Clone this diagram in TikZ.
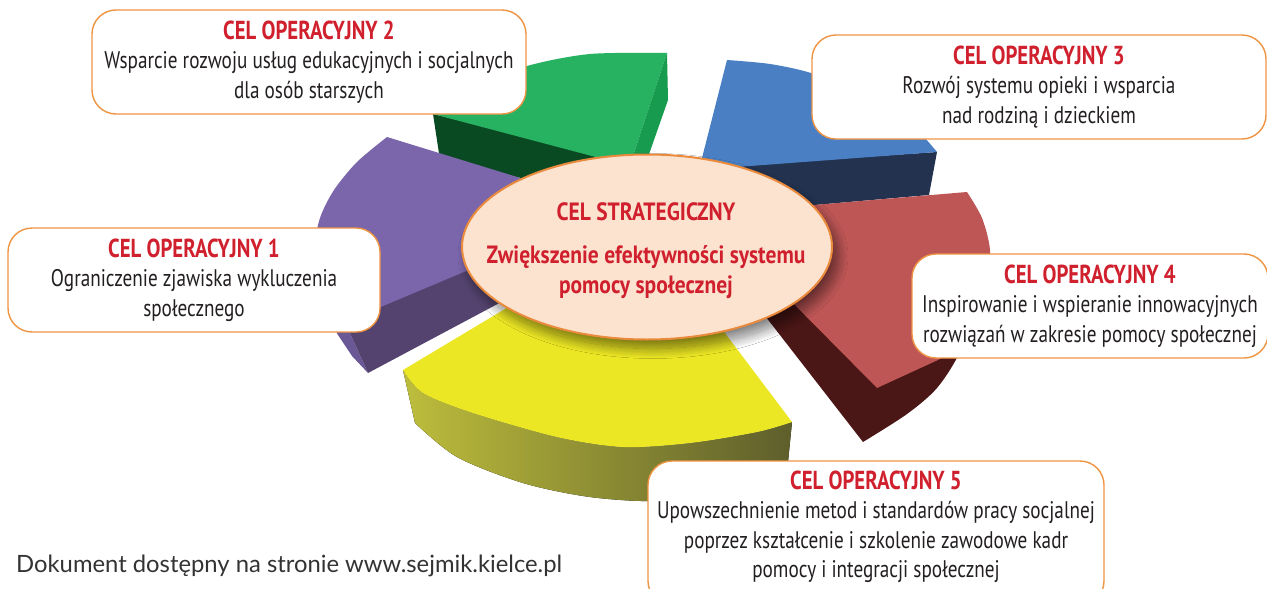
\documentclass[tikz,border=0pt]{standalone}
\usepackage{fontspec}
\setmainfont{PT Sans}
\newfontfamily\condf{PT Sans}[FakeStretch=0.8]
\newfontfamily\ellf{PT Sans}[FakeStretch=0.86]
\newfontfamily\footf{Lato}
\usetikzlibrary{shapes.geometric,shadows.blur}
\definecolor{titlered}{HTML}{D0202E}
\definecolor{bodytext}{HTML}{231F20}
\definecolor{boxorange}{HTML}{EF9443}
\definecolor{greentop}{HTML}{27B262}
\definecolor{greenright}{HTML}{179B4F}
\definecolor{greenleft}{HTML}{0A4A23}
\definecolor{bluetop}{HTML}{4A80C3}
\definecolor{navy}{HTML}{22324F}
\definecolor{purpletop}{HTML}{7B66AB}
\definecolor{purplefront}{HTML}{54436F}
\definecolor{purpleside}{HTML}{6A5896}
\definecolor{redtop}{HTML}{BE5656}
\definecolor{maroon}{HTML}{4A1616}
\definecolor{yellowtop}{HTML}{ECE724}
\definecolor{olivel}{HTML}{BDBD3C}
\definecolor{oliver}{HTML}{5E5E2C}
\definecolor{peach}{HTML}{FBE3D0}
\definecolor{ellborder}{HTML}{E98A3C}
\definecolor{foot}{HTML}{333333}
\begin{document}
\begin{tikzpicture}[x=1pt,y=-1pt,
  goalbox/.style={draw=boxorange, line width=1.4pt, fill=white, rounded corners=24pt,
    inner sep=0pt, align=center, text=bodytext,
    font=\condf\fontsize{24}{29.5}\selectfont},
  goaltext/.style={inner sep=0pt, align=center, text=bodytext,
    font=\condf\fontsize{24}{29.5}\selectfont}]
\clip (0,0) rectangle (1267,589);
\fill[white] (0,0) rectangle (1267,589);

% green slice (back)
\fill[greenleft] (433,114) -- (620,160) -- (620,200) -- (440,160) -- cycle;
\fill[greentop] plot[smooth] coordinates {(433,114) (478,86) (527,66) (590,54) (667,53)}
   -- (630,165) -- (607,160) -- cycle;
\fill[greenright] (667,53) -- (668,100) -- (647,160) -- (630,165) -- cycle;

% blue slice
\fill[navy] (700,168) -- (937,152) -- (929,195) -- (700,215) -- cycle;
\fill[bluetop] plot[smooth] coordinates {(727,60) (770,64) (811,73) (860,92) (905,118) (937,152)}
   -- (737,167) -- (700,170) -- (702,158) -- cycle;

% purple slice
\fill[purpleside] (320,300) -- (345,322) -- (368,373) -- (352,356) -- (338,335) -- cycle;
\fill[purplefront] (345,322) -- (505,245) -- (505,300) -- (368,373) -- cycle;
\fill[purpletop] (387,137) -- (540,184) -- (540,240) -- (345,322)
   -- plot[smooth] coordinates {(345,322) (328,305) (317,280) (314,250) (320,218) (334,190) (357,162) (387,137)}
   -- cycle;

% red slice
\fill[maroon] (745,290) -- (863,442)
   -- plot[smooth] coordinates {(863,442) (907,414) (937,388) (960,352) (980,300)}
   -- (985,250) -- (800,250) -- cycle;
\fill[redtop] (790,207) -- (967,192)
   -- plot[smooth] coordinates {(967,192) (982,218) (990,250) (988,290) (975,325) (958,347) (938,360)}
   -- (877,388) -- (780,290) -- cycle;

% yellow slice
\fill[left color=olivel, right color=oliver] (403,370)
   -- plot[smooth] coordinates {(403,370) (423,393) (473,413) (557,437) (623,447) (690,443) (757,432) (792,422)}
   -- (787,472)
   -- plot[smooth] coordinates {(787,472) (720,492) (657,501) (590,497) (523,483) (457,457) (415,423)}
   -- cycle;
\fill[yellowtop] (403,370) -- (520,300) -- (700,300) -- (792,422)
   -- plot[smooth] coordinates {(792,422) (757,432) (690,443) (623,447) (557,437) (473,413) (423,393) (403,370)}
   -- cycle;

% central ellipse
\node[ellipse, minimum width=370pt, minimum height=185pt, inner sep=0pt,
      fill=peach, draw=ellborder, line width=2pt,
      blur shadow={shadow xshift=6pt, shadow yshift=-9pt, shadow blur radius=10pt, shadow opacity=50, shadow blur steps=20}]
      (cs) at (647,247) {};
\node[align=center, text=titlered, font=\ellf\bfseries\fontsize{25}{30}\selectfont]
      (cstext) at (646,251) {CEL STRATEGICZNY\\[13pt]Zwiększenie efektywności systemu\\pomocy społecznej};

% operational goal boxes
\node[goalbox, minimum width=434pt, minimum height=104pt] (co2) at (309,62)
  {\textcolor{titlered}{\bfseries\fontsize{26}{29.5}\selectfont CEL OPERACYJNY 2}\\Wsparcie rozwoju usług edukacyjnych i socjalnych\\dla osób starszych};
\node[goalbox, minimum width=454pt, minimum height=104pt] (co3) at (1039,87)
  {\textcolor{titlered}{\bfseries\fontsize{26}{29.5}\selectfont CEL OPERACYJNY 3}\\Rozwój systemu opieki i wsparcia\\nad rodziną i dzieckiem};
\node[goalbox, minimum width=372pt, minimum height=104pt] (co1) at (194,280)
  {\textcolor{titlered}{\bfseries\fontsize{26}{29.5}\selectfont CEL OPERACYJNY 1}\\Ograniczenie zjawiska wykluczenia\\społecznego};
\node[goalbox, minimum width=356pt, minimum height=104pt] (co4) at (1090,306)
  {\textcolor{titlered}{\bfseries\fontsize{26}{29.5}\selectfont CEL OPERACYJNY 4}\\Inspirowanie i wspieranie innowacyjnych\\rozwiązań w zakresie pomocy społecznej};
\node[goalbox, minimum width=456pt, minimum height=144pt] (co5) at (876,533) {};
\node[goaltext] (co5text) at (876,527)
  {\textcolor{titlered}{\bfseries\fontsize{26}{29.5}\selectfont CEL OPERACYJNY 5}\\Upowszechnienie metod i standardów pracy socjalnej\\poprzez kształcenie i szkolenie zawodowe kadr\\pomocy i integracji społecznej};

% footer
\node[anchor=base west, inner sep=0pt, text=foot, font=\footf\fontsize{23.8}{28}\selectfont]
  (footer) at (16,572) {Dokument dostępny na stronie www.sejmik.kielce.pl};
\end{tikzpicture}
\end{document}
